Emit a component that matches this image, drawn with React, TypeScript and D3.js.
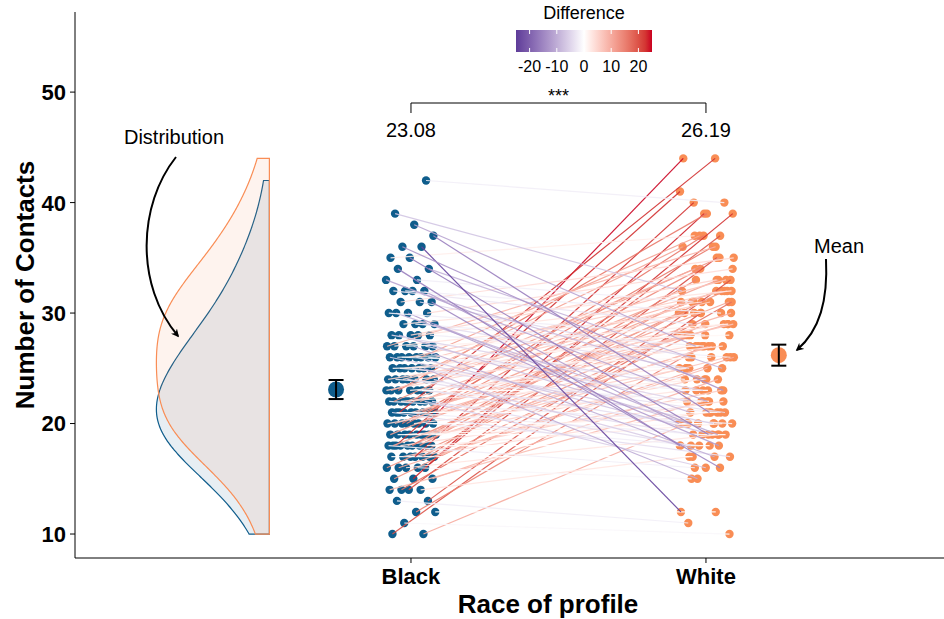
import React from "react";
import * as d3 from "d3";

// ---- Data (pairs: index i of blackVals matches index i of whiteVals) ----
const categories = ["Black", "White"];
const blackVals = [
  10, 10, 11, 12, 12, 13, 13, 14, 14, 14, 14, 15, 15, 15, 16, 16, 16, 16, 16,
  17, 17, 17, 17, 17, 17, 17,
  18, 18, 18, 18, 18, 18, 18, 18, 18,
  19, 19, 19, 19, 19, 19, 19, 19, 19,
  20, 20, 20, 20, 20, 20, 20, 20,
  21, 21, 21, 21, 21, 21, 21, 21, 21, 21,
  22, 22, 22, 22, 22, 22, 22, 22, 22,
  23, 23, 23, 23, 23, 23, 23,
  24, 24, 24, 24, 24, 24, 24,
  25, 25, 25, 25, 25, 25, 25,
  26, 26, 26, 26, 26, 26, 26, 26,
  27, 27, 27, 27, 27, 27,
  28, 28, 28, 28, 28,
  29, 29, 29, 29,
  30, 30, 30, 30,
  31, 31, 31,
  32, 32, 32, 32,
  33, 33, 34, 34, 35, 35, 36, 36, 37, 38, 39, 42,
];
const whiteVals = [
  30, 20, 10, 12, 27, 11, 33, 35, 22, 17, 31, 24, 39, 28, 39, 19, 29, 15, 26,
  37, 21, 17, 30, 23, 25, 40,
  41, 20, 27, 16, 31, 22, 18, 33, 28,
  32, 21, 24, 44, 19, 27, 20, 30, 26,
  36, 18, 23, 29, 20, 34, 25, 31,
  44, 22, 28, 17, 32, 19, 26, 30, 21, 37,
  27, 20, 33, 24, 18, 29, 35, 16, 31,
  28, 21, 39, 19, 25, 32, 23,
  30, 18, 27, 22, 34, 20, 29,
  31, 23, 36, 21, 26, 15, 28,
  33, 19, 27, 24, 32, 20, 37, 25,
  29, 17, 30, 22, 28, 36,
  31, 20, 26, 33, 23,
  25, 32, 19, 27,
  21, 34, 18, 28,
  26, 35, 16,
  24, 29, 20, 30,
  22, 31, 18, 25, 19, 37, 12, 23, 21, 27, 32, 40,
];
const yTicks = [10, 20, 30, 40, 50];
const legendTicks = [-20, -10, 0, 10, 20];
const legendTitle = "Difference";
const yTitle = "Number of Contacts";
const xTitle = "Race of profile";

const W = 944;
const H = 619;
const FONT = "'Liberation Sans', Arial, Helvetica, sans-serif";
const BLUE = "#0f5d8c";
const ORANGE = "#f98d55";

function kde(values: number[], bw: number, lo: number, hi: number, n = 200) {
  const out: [number, number][] = [];
  for (let k = 0; k <= n; k++) {
    const y = lo + ((hi - lo) * k) / n;
    let s = 0;
    for (const v of values) {
      const u = (y - v) / bw;
      s += Math.exp(-0.5 * u * u);
    }
    out.push([y, s / (values.length * bw * Math.sqrt(2 * Math.PI))]);
  }
  return out;
}
function nrd0(values: number[]) {
  const sd = d3.deviation(values) as number;
  const sorted = [...values].sort((a, b) => a - b);
  const iqr = (d3.quantileSorted(sorted, 0.75) as number) - (d3.quantileSorted(sorted, 0.25) as number);
  const lo = Math.min(sd, iqr / 1.34);
  return 0.9 * lo * Math.pow(values.length, -0.2);
}

export default function App() {
  const x = d3.scaleLinear().domain([-0.139, 2.807]).range([75, 944]);
  const y = d3.scaleLinear().domain([7.83, 57.25]).range([558, 12]);
  const catPos: Record<string, number> = { Black: 1, White: 2 };

  const diffs = blackVals.map((b, i) => whiteVals[i] - b);
  const maxAbs = d3.max(diffs.map(Math.abs)) as number;
  const color = d3
    .scaleLinear<string>()
    .domain([-maxAbs, 0, maxAbs])
    .range(["#5e3c99", "#ffffff", "#ca0020"])
    .interpolate(d3.interpolateLab);

  // deterministic jitter
  const jb = blackVals.map((_, i) => (((i * 0.6180339887 + 0.13) % 1) - 0.5) * 0.17);
  const jw = whiteVals.map((_, i) => (((i * 0.7548776662 + 0.41) % 1) - 0.5) * 0.19);

  const stats = [blackVals, whiteVals].map((v) => {
    const m = d3.mean(v) as number;
    const se = (d3.deviation(v) as number) / Math.sqrt(v.length);
    return { m, ci: 1.57 * se };
  });

  // densities
  const baseX = x(0.52);
  const dens = [blackVals, whiteVals].map((v) => {
    const bw = nrd0(v) * 1.55;
    const lo = d3.min(v) as number;
    const hi = d3.max(v) as number;
    return kde(v, bw, lo, hi);
  });
  const maxW = 113;
  const densPaths = dens.map((pts) => {
    const mx = d3.max(pts, (p) => p[1]) as number;
    const line = d3
      .line<[number, number]>()
      .x((p) => baseX - (p[1] / mx) * maxW)
      .y((p) => y(p[0]))
      .curve(d3.curveBasis);
    const first = pts[0];
    const last = pts[pts.length - 1];
    return `M${baseX},${y(first[0])}` + (line(pts) as string).replace(/^M/, "L") + `L${baseX},${y(last[0])}Z`;
  });

  const legX = d3.scaleLinear().domain([-maxAbs, maxAbs]).range([516, 652]);
  const gradStops = d3.range(0, 21).map((k) => {
    const t = k / 20;
    return { off: t, c: color(-maxAbs + 2 * maxAbs * t) };
  });

  const bx = x(1);
  const wx = x(2);

  return (
    <svg width={W} height={H} style={{ position: "absolute", left: 0, top: 0, background: "#fff" }} fontFamily={FONT}>
      <defs>
        <linearGradient id="diffGrad" x1="0" x2="1" y1="0" y2="0">
          {gradStops.map((s, i) => (
            <stop key={i} offset={s.off} stopColor={s.c} />
          ))}
        </linearGradient>
        <marker id="arr" viewBox="0 0 10 10" refX="8" refY="5" markerWidth="8" markerHeight="8" orient="auto-start-reverse" markerUnits="userSpaceOnUse">
          <path d="M0,0 L10,5 L0,10 L3,5 Z" fill="#000" />
        </marker>
      </defs>

      {/* densities */}
      <path d={densPaths[0]} fill={BLUE} fillOpacity={0.1} stroke={BLUE} strokeWidth={1.2} />
      <path d={densPaths[1]} fill={ORANGE} fillOpacity={0.1} stroke={ORANGE} strokeWidth={1.2} />

      {/* points */}
      {blackVals.map((v, i) => (
        <circle key={"b" + i} cx={x(1 + jb[i])} cy={y(v)} r={4.2} fill={BLUE} />
      ))}
      {whiteVals.map((v, i) => (
        <circle key={"w" + i} cx={x(2 + jw[i])} cy={y(v)} r={4.2} fill={ORANGE} />
      ))}

      {/* pair lines */}
      {blackVals.map((v, i) => (
        <line
          key={"l" + i}
          x1={x(1 + jb[i])}
          y1={y(v)}
          x2={x(2 + jw[i])}
          y2={y(whiteVals[i])}
          stroke={color(diffs[i])}
          strokeWidth={1.2}
          strokeOpacity={0.9}
        />
      ))}

      {/* means with error bars */}
      {stats.map((s, i) => {
        const cx = x(i === 0 ? 0.746 : 2.247);
        return (
          <g key={"m" + i}>
            <circle cx={cx} cy={y(s.m)} r={8} fill={i === 0 ? BLUE : ORANGE} />
            <line x1={cx} x2={cx} y1={y(s.m - s.ci)} y2={y(s.m + s.ci)} stroke="#000" strokeWidth={2} />
            <line x1={cx - 7.5} x2={cx + 7.5} y1={y(s.m - s.ci)} y2={y(s.m - s.ci)} stroke="#000" strokeWidth={2} />
            <line x1={cx - 7.5} x2={cx + 7.5} y1={y(s.m + s.ci)} y2={y(s.m + s.ci)} stroke="#000" strokeWidth={2} />
          </g>
        );
      })}

      {/* significance bracket */}
      <path d={`M${bx},113 L${bx},103 L${wx},103 L${wx},113`} fill="none" stroke="#000" strokeWidth={1} />
      <text x={(bx + wx) / 2} y={102} textAnchor="middle" fontSize={18}>***</text>
      <text x={bx} y={137} textAnchor="middle" fontSize={20}>{stats[0].m.toFixed(2)}</text>
      <text x={wx} y={137} textAnchor="middle" fontSize={20}>{stats[1].m.toFixed(2)}</text>

      {/* annotations */}
      <text x={174} y={144} textAnchor="middle" fontSize={20}>Distribution</text>
      <path d="M176,157 C138,205 135,285 178,336" fill="none" stroke="#000" strokeWidth={2} markerEnd="url(#arr)" />
      <text x={839} y={253} textAnchor="middle" fontSize={20}>Mean</text>
      <path d="M826,259 C828,300 820,330 797,350" fill="none" stroke="#000" strokeWidth={2} markerEnd="url(#arr)" />

      {/* axes */}
      <line x1={75} x2={75} y1={12} y2={558} stroke="#000" strokeWidth={1} />
      <line x1={75} x2={944} y1={558} y2={558} stroke="#000" strokeWidth={1} />
      {yTicks.map((t) => (
        <g key={"yt" + t}>
          <line x1={70} x2={75} y1={y(t)} y2={y(t)} stroke="#000" />
          <text x={66} y={y(t)} dy="0.36em" textAnchor="end" fontSize={22} fontWeight="bold">{t}</text>
        </g>
      ))}
      {categories.map((c) => (
        <g key={c}>
          <line x1={x(catPos[c])} x2={x(catPos[c])} y1={558} y2={563} stroke="#000" />
          <text x={x(catPos[c])} y={584} textAnchor="middle" fontSize={22} fontWeight="bold">{c}</text>
        </g>
      ))}
      <text x={548} y={613} textAnchor="middle" fontSize={26} fontWeight="bold">{xTitle}</text>
      <text transform={`translate(34,285) rotate(-90)`} textAnchor="middle" fontSize={26} fontWeight="bold">{yTitle}</text>

      {/* legend */}
      <text x={584} y={19} textAnchor="middle" fontSize={18}>{legendTitle}</text>
      <rect x={516} y={30} width={136} height={22} fill="url(#diffGrad)" />
      {legendTicks.map((t) => (
        <g key={"lg" + t}>
          <line x1={legX(t)} x2={legX(t)} y1={30} y2={34} stroke="#fff" strokeWidth={1} />
          <line x1={legX(t)} x2={legX(t)} y1={48} y2={52} stroke="#fff" strokeWidth={1} />
          <text x={legX(t)} y={72} textAnchor="middle" fontSize={16}>{t}</text>
        </g>
      ))}
    </svg>
  );
}
